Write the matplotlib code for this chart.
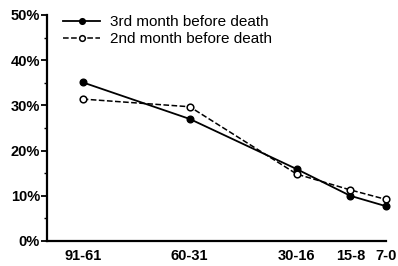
import matplotlib
matplotlib.use("Agg")
import matplotlib.pyplot as plt
from matplotlib.ticker import MultipleLocator, FuncFormatter

categories = ["91-61", "60-31", "30-16", "15-8", "7-0"]
x_pos = [1, 4, 7, 8.5, 9.5]
third_month = [35.1, 27.0, 15.9, 10.0, 7.7]
second_month = [31.4, 29.7, 14.8, 11.3, 9.2]

plt.rcParams['font.family'] = ['Liberation Sans', 'DejaVu Sans']

fig = plt.figure(figsize=(3.98, 2.66), dpi=100)
ax = fig.add_axes([47/398, 25/266, (386-47)/398, (241-15)/266])

ax.plot(x_pos, third_month, '-', color='black', lw=1.3, marker='o', ms=4.8,
        mfc='black', mec='black', label='3rd month before death', clip_on=False, zorder=3)
ax.plot(x_pos, second_month, '--', color='black', lw=1.1, marker='o', ms=4.8,
        mfc='white', mec='black', mew=1.1, label='2nd month before death', clip_on=False, zorder=4)

ax.set_xlim(0, 9.5)
ax.set_ylim(0, 50)
ax.set_xticks(x_pos)
ax.set_xticklabels(categories, fontweight='bold', fontsize=10.5)
ax.tick_params(axis='x', length=0, pad=6)
ax.yaxis.set_major_locator(MultipleLocator(10))
ax.yaxis.set_minor_locator(MultipleLocator(5))
ax.yaxis.set_major_formatter(FuncFormatter(lambda v, p: f"{int(v)}%"))
for lab in ax.get_yticklabels():
    lab.set_fontweight('bold')
    lab.set_fontsize(10.5)
ax.tick_params(axis='y', which='major', length=4, width=1.3, pad=1)
ax.tick_params(axis='y', which='minor', length=2.5, width=1.0)
for s in ['top', 'right']:
    ax.spines[s].set_visible(False)
for s in ['left', 'bottom']:
    ax.spines[s].set_linewidth(1.6)

leg = ax.legend(loc='upper left', bbox_to_anchor=(0.03, 1.026), frameon=False,
                fontsize=11, handlelength=2.4, handletextpad=0.65, labelspacing=0.2,
                borderaxespad=0, markerscale=0.85)

fig.savefig("out.png", dpi=100)
